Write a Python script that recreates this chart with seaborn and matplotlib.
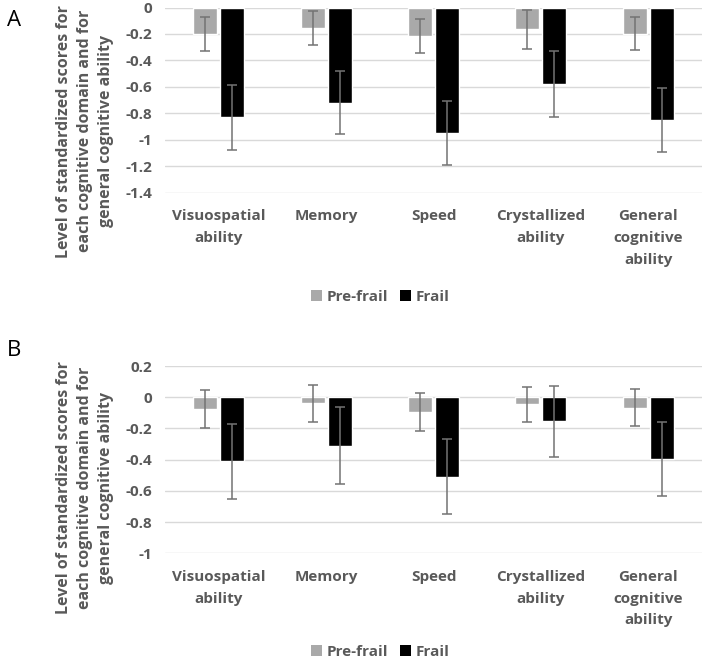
import matplotlib
matplotlib.use("Agg")
import matplotlib.pyplot as plt
from matplotlib.patches import Patch
from matplotlib.ticker import FuncFormatter, MultipleLocator
import numpy as np
import pandas as pd
import seaborn as sns

# ─── Data ────────────────────────────────────────────────────────────────────
domains = ["Visuospatial\nability", "Memory", "Speed",
           "Crystallized\nability", "General\ncognitive\nability"]
groups = ["Pre-frail", "Frail"]

a_prefrail = [-0.20, -0.155, -0.215, -0.165, -0.198]
a_prefrail_err = [0.13, 0.13, 0.127, 0.145, 0.127]
a_frail = [-0.83, -0.72, -0.95, -0.58, -0.85]
a_frail_err = [0.245, 0.24, 0.24, 0.25, 0.245]

b_prefrail = [-0.077, -0.04, -0.094, -0.045, -0.068]
b_prefrail_err = [0.123, 0.12, 0.12, 0.113, 0.118]
b_frail = [-0.41, -0.31, -0.51, -0.155, -0.395]
b_frail_err = [0.24, 0.245, 0.24, 0.23, 0.237]

ylabel = ("Level of standardized scores for\neach cognitive domain and for\n"
          "general cognitive ability")

# ─── Style ───────────────────────────────────────────────────────────────────
sns.set_theme(style="white")
plt.rcParams["font.family"] = ["Open Sans", "DejaVu Sans"]
TEXT = "#595959"
GRID = "#d9d9d9"
PALETTE = {"Pre-frail": "#a9a9a9", "Frail": "#000000"}
FS = 11


def long_frame(pre, pre_err, frail, frail_err):
    rows = []
    for i, d in enumerate(domains):
        rows.append({"domain": d, "group": "Pre-frail", "value": pre[i], "err": pre_err[i]})
        rows.append({"domain": d, "group": "Frail", "value": frail[i], "err": frail_err[i]})
    return pd.DataFrame(rows)


def fmt_tick(v, _):
    v = round(v, 1)
    return "0" if abs(v) < 1e-9 else f"{v:g}"


def draw_panel(ax, df, ylim, legend_y, label_y):
    sns.barplot(data=df, x="domain", y="value", hue="group", order=domains,
                hue_order=groups, palette=PALETTE, errorbar=None,
                width=0.505, gap=0.112, legend=False, ax=ax, saturation=1)
    # error bars placed on the bars seaborn drew
    for container, g in zip(ax.containers, groups):
        errs = df[df["group"] == g].set_index("domain").loc[domains, "err"].values
        xs = [p.get_x() + p.get_width() / 2 for p in container.patches]
        ys = [p.get_y() + p.get_height() for p in container.patches]
        ax.errorbar(xs, ys, yerr=errs, fmt="none", ecolor="#737373",
                    elinewidth=1.1, capsize=3.5, capthick=1.1, zorder=3)

    ax.set_ylim(*ylim)
    ax.set_xlim(-0.5, len(domains) - 0.5)
    ax.yaxis.set_major_locator(MultipleLocator(0.2))
    ax.yaxis.set_major_formatter(FuncFormatter(fmt_tick))
    ax.grid(axis="y", color=GRID, linewidth=1.0)
    ax.set_axisbelow(True)
    for s in ax.spines.values():
        s.set_visible(False)
    ax.tick_params(axis="y", length=0, labelsize=FS, labelcolor=TEXT, pad=9)
    ax.tick_params(axis="x", length=0, labelsize=FS, labelcolor=TEXT, pad=12)
    for t in ax.get_yticklabels():
        t.set_fontweight("bold")
    for t in ax.get_xticklabels():
        t.set_fontweight("bold")
        t.set_linespacing(1.7)
    ax.set_xlabel("")
    ax.set_ylabel("")

    fig.text(85 / 703, 1 - label_y / 665, ylabel, rotation=90, ha="center",
             va="center", fontsize=11.5, fontweight="bold", color=TEXT,
             linespacing=1.45)

    handles = [Patch(facecolor=PALETTE[g], edgecolor="none") for g in groups]
    fig.legend(handles, groups, loc="center", bbox_to_anchor=(380 / 703, 1 - legend_y / 665),
               ncol=2, frameon=False, handlelength=0.7, handleheight=0.7,
               handletextpad=0.3, columnspacing=0.8,
               prop={"weight": "bold", "size": FS}, labelcolor=TEXT)


fig = plt.figure(figsize=(7.03, 6.65), dpi=100)
ax_a = fig.add_axes([165 / 703, 1 - 192.7 / 665, 537 / 703, 185.2 / 665])
ax_b = fig.add_axes([165 / 703, 1 - 553.3 / 665, 537 / 703, 187.3 / 665])

draw_panel(ax_a, long_frame(a_prefrail, a_prefrail_err, a_frail, a_frail_err),
           (-1.4, 0), 297, 131)
draw_panel(ax_b, long_frame(b_prefrail, b_prefrail_err, b_frail, b_frail_err),
           (-1.0, 0.2), 652, 488)

fig.text(14 / 703, 1 - 20 / 665, "A", fontsize=16, ha="center", va="center", color="black")
fig.text(14 / 703, 1 - 350 / 665, "B", fontsize=16, ha="center", va="center", color="black")

fig.savefig("out.png", dpi=100)
